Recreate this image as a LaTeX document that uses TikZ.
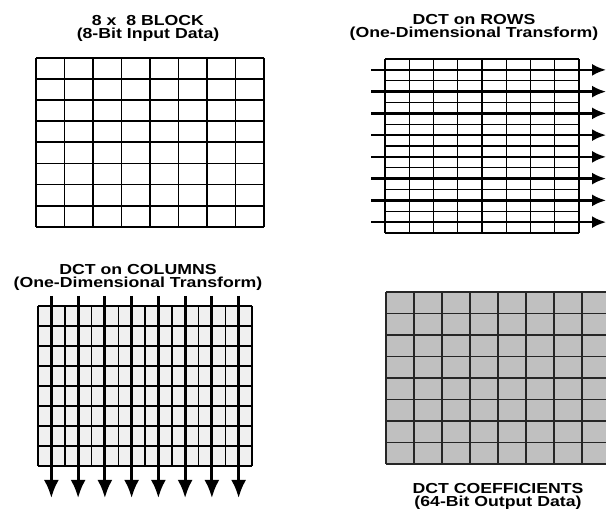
\documentclass[tikz,border=0pt]{standalone}
\usepackage{fontspec}
\setmainfont{Liberation Sans}[FakeStretch=1.22]
\usetikzlibrary{arrows.meta}
\definecolor{grisclair}{HTML}{F0F0F0}
\definecolor{grisfonce}{HTML}{C0C0C0}
\begin{document}
\begin{tikzpicture}[x=1pt,y=-1pt,>={Latex[length=14pt,width=12pt]},
  titre/.style={anchor=north,align=center,inner sep=0pt,
    font=\bfseries\fontsize{14.5}{13}\selectfont}]
  \useasboundingbox (0,0) rectangle (606,513);

  % bloc 8x8 (entree)
  \def\Xa{36}  \def\Ya{58}  \def\Wa{28.5}  \def\Ha{21.1}
  \node[titre] (titreA) at (148,15) {8 x\ \ 8 BLOCK\\(8-Bit Input Data)};
  \foreach \i in {0,...,8} {
    \draw[line width=1.8pt] (\Xa+\i*\Wa,\Ya) -- (\Xa+\i*\Wa,\Ya+8*\Ha);   % colonnes
    \draw[line width=1.8pt] (\Xa,\Ya+\i*\Ha) -- (\Xa+8*\Wa,\Ya+\i*\Ha);   % lignes
  }

  % DCT sur les lignes
  \def\Xb{385} \def\Yb{59}  \def\Wb{24.25} \def\Hb{21.75}
  \node[titre] (titreB) at (474,14) {DCT on ROWS\\(One-Dimensional Transform)};
  \foreach \i in {0,...,8} {
    \draw[line width=1.2pt] (\Xb+\i*\Wb,\Yb) -- (\Xb+\i*\Wb,\Yb+8*\Hb);
    \draw[line width=1.2pt] (\Xb,\Yb+\i*\Hb) -- (\Xb+8*\Wb,\Yb+\i*\Hb);
  }
  \foreach \i in {0,...,7} {
    \coordinate (ligD\i) at (371,\Yb+\i*\Hb+0.5*\Hb);
    \coordinate (ligF\i) at (606,\Yb+\i*\Hb+0.5*\Hb);
    \draw[->,line width=2.4pt] (ligD\i) -- (ligF\i);
  }

  % DCT sur les colonnes
  \def\Xc{38}  \def\Yc{306} \def\Wc{26.75} \def\Hc{20}
  \node[titre] (titreC) at (138,264) {DCT on COLUMNS\\(One-Dimensional Transform)};
  \fill[grisclair] (\Xc,\Yc) rectangle (\Xc+8*\Wc,\Yc+8*\Hc);
  \foreach \i in {0,...,8} {
    \draw[line width=1.5pt] (\Xc+\i*\Wc,\Yc) -- (\Xc+\i*\Wc,\Yc+8*\Hc);
    \draw[line width=1.5pt] (\Xc,\Yc+\i*\Hc) -- (\Xc+8*\Wc,\Yc+\i*\Hc);
  }
  \foreach \i in {0,...,7} {
    \coordinate (colD\i) at (\Xc+\i*\Wc+0.5*\Wc,296);
    \coordinate (colF\i) at (\Xc+\i*\Wc+0.5*\Wc,498);
    \draw[->,>={Latex[length=18pt,width=15pt]},line width=2.8pt] (colD\i) -- (colF\i);
  }

  % coefficients DCT (sortie)
  \def\Xd{386} \def\Yd{292} \def\Wd{28}   \def\Hd{21.5}
  \fill[grisfonce] (\Xd,\Yd) rectangle (\Xd+8*\Wd,\Yd+8*\Hd);
  \foreach \i in {0,...,8} {
    \draw[line width=1.8pt,black!85] (\Xd+\i*\Wd,\Yd) -- (\Xd+\i*\Wd,\Yd+8*\Hd);
    \draw[line width=1.8pt,black!85] (\Xd,\Yd+\i*\Hd) -- (\Xd+8*\Wd,\Yd+\i*\Hd);
  }
  \node[titre] (titreD) at (498,483) {DCT COEFFICIENTS\\(64-Bit Output Data)};
\end{tikzpicture}
\end{document}
